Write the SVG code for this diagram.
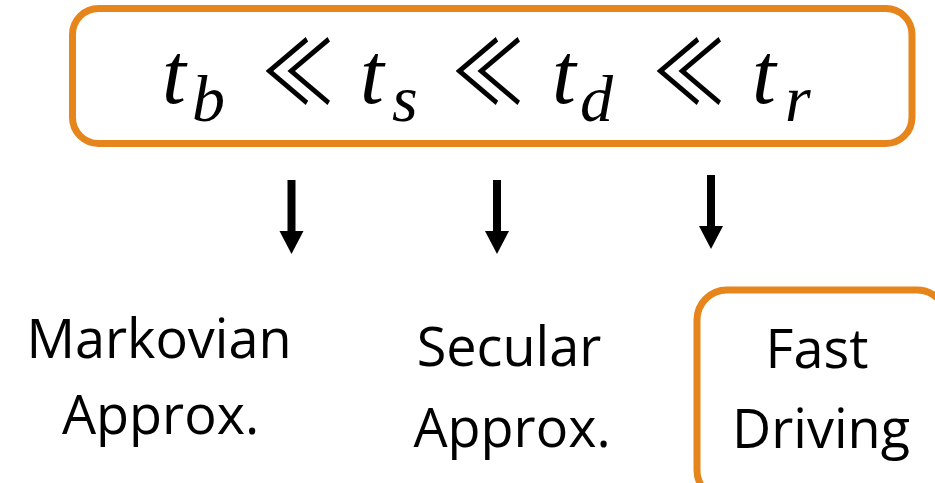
<svg xmlns="http://www.w3.org/2000/svg" width="935" height="483" viewBox="0 0 935 483">
  <defs>
    <style>
      .box { fill: #FFFFFF; stroke: #E6851C; stroke-width: 7; }
      .math { font-family: "Liberation Serif", "DejaVu Serif", serif; font-style: italic; fill: #000; }
      .rel { font-family: "Noto Sans CJK JP", "DejaVu Sans", sans-serif; font-weight: 400; font-size: 72px; fill: #000; }
      .label { font-family: "Open Sans", "Liberation Sans", sans-serif; font-size: 54px; fill: #000; text-anchor: middle; }
      .shaft { stroke: #000; stroke-width: 8; fill: none; }
      .head { fill: #000; }
    </style>
  </defs>
  <rect width="935" height="483" fill="#FFFFFF"/>

  <!-- time-scale hierarchy -->
  <g id="hierarchy">
    <rect class="box" x="72.5" y="8.5" width="839.5" height="135" rx="26" ry="26"/>
    <text class="math" font-size="86" y="103">
      <tspan x="162">t</tspan><tspan x="192" y="121" font-size="66">b</tspan>
      <tspan x="360" y="103">t</tspan><tspan x="392" y="121" font-size="66">s</tspan>
      <tspan x="552" y="103">t</tspan><tspan x="580" y="121" font-size="66">d</tspan>
      <tspan x="752" y="103">t</tspan><tspan x="785" y="121" font-size="66">r</tspan>
    </text>
    <!-- "much less than" signs, stretched a little vertically -->
    <text class="rel" transform="translate(262 104) scale(1 1.22)">≪</text>
    <text class="rel" transform="translate(452 104) scale(1 1.22)">≪</text>
    <text class="rel" transform="translate(653 104) scale(1 1.22)">≪</text>
  </g>

  <!-- connectors -->
  <g id="connectors">
    <line class="shaft" x1="291.5" y1="180" x2="291.5" y2="233"/>
    <polygon class="head" points="279.5,231 303.5,231 291.5,254"/>
    <line class="shaft" x1="497" y1="180" x2="497" y2="233"/>
    <polygon class="head" points="485,231 509,231 497,254"/>
    <line class="shaft" x1="711" y1="175" x2="711" y2="228"/>
    <polygon class="head" points="699,226 723,226 711,249"/>
  </g>

  <g id="markovian">
    <text class="label" x="159" y="358">Markovian</text>
    <text class="label" x="160.5" y="434">Approx.</text>
  </g>

  <g id="secular">
    <text class="label" x="509" y="366">Secular</text>
    <text class="label" x="512" y="447">Approx.</text>
  </g>

  <g id="fast-driving">
    <rect class="box" x="697" y="290" width="250" height="210" rx="30" ry="30"/>
    <text class="label" x="817" y="368">Fast</text>
    <text class="label" x="821" y="448">Driving</text>
  </g>
</svg>
